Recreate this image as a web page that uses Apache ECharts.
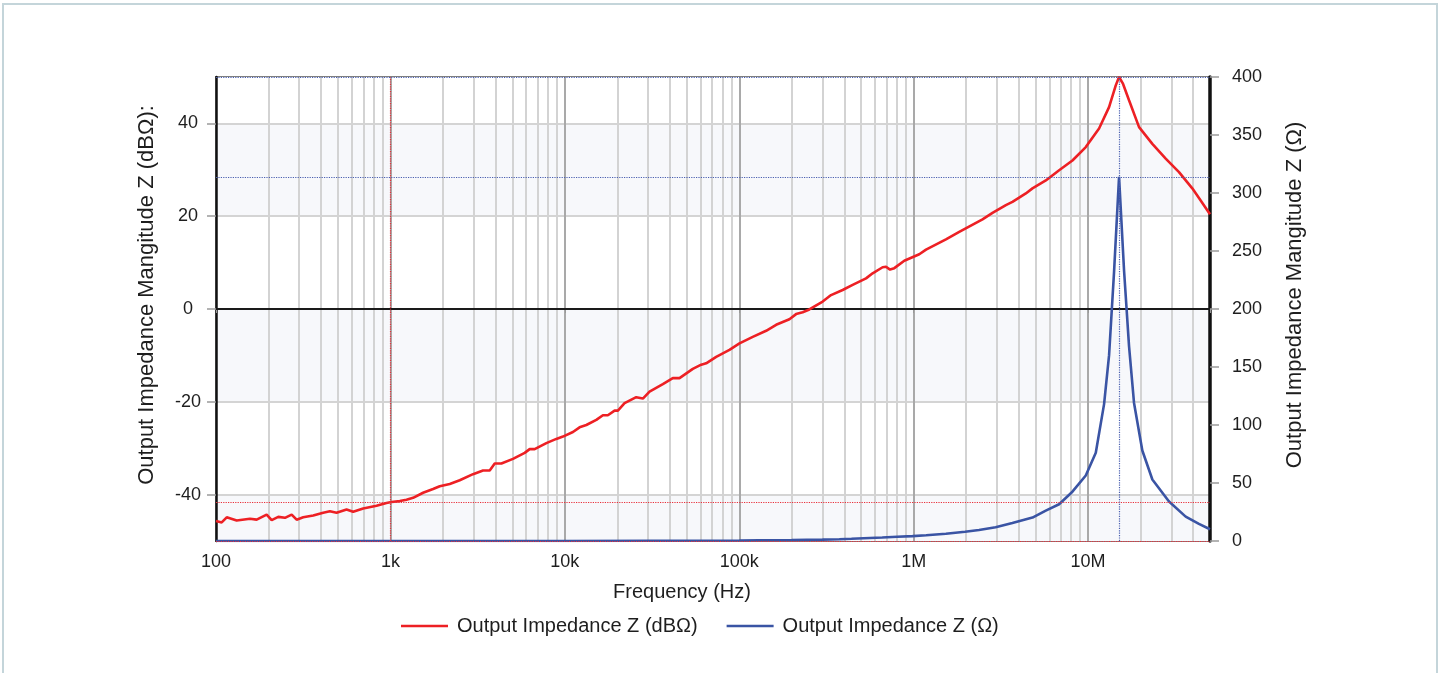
<!DOCTYPE html>
<html><head><meta charset="utf-8">
<script src="https://cdn.jsdelivr.net/npm/echarts@6/dist/echarts.min.js"></script>
<style>
html,body{margin:0;padding:0;background:#fff;overflow:hidden;width:1442px;height:673px}
#frame{position:absolute;left:2px;top:3px;width:1436px;height:720px;border:2px solid #c4d5da;box-sizing:border-box}
#chart{position:absolute;left:0;top:0;width:1442px;height:673px}
</style></head><body>
<div id="frame"></div>
<div id="chart"></div>
<script>
// ---- data ----
const redFreq = [100,107.8,115.2,131.4,156.5,171.1,195.2,208.5,227.5,248.5,271.5,289.9,316.2,360.8,411.7,449.7,491.2,560.5,611.5,697.8,832.6,949.1,1014,1132,1236,1349,1539,1756,1918,2189,2497,2976,3396,3710,3962,4328,5043,5886,6286,6714,7834,8940,9752,11130,12150,13280,15150,16530,17650,19290,20150,22000,25670,28020,30600,36470,41600,45440,54160,60520,64620,73750,87860,100300,119500,142600,162700,193900,211800,231000,252300,300800,336000,391500,446800,533200,581700,663700,694200,731800,774400,883600,1077000,1177000,1531000,1825000,2481000,2831000,3378000,3684000,4397000,4797000,5724000,6823000,8133000,9702000,11560000,13190000,14410000,15050000,15870000,17170000,19600000,23360000,27860000,33210000,39570000,44210000,50000000];
const redDb = [-45.7,-46.0,-44.9,-45.6,-45.2,-45.4,-44.3,-45.5,-44.8,-45.0,-44.3,-45.4,-44.9,-44.5,-43.9,-43.6,-43.9,-43.2,-43.7,-43.0,-42.4,-41.8,-41.6,-41.4,-41.1,-40.7,-39.6,-38.8,-38.2,-37.7,-36.9,-35.6,-34.8,-34.8,-33.3,-33.3,-32.3,-31.0,-30.2,-30.2,-28.9,-28.0,-27.5,-26.5,-25.5,-25.0,-23.9,-22.9,-22.9,-21.9,-21.9,-20.3,-19.0,-19.3,-17.8,-16.2,-14.9,-14.9,-12.9,-12.0,-11.7,-10.3,-8.8,-7.4,-6.0,-4.7,-3.4,-2.2,-1.1,-0.7,-0.1,1.6,3.0,4.1,5.2,6.6,7.7,9.0,9.1,8.5,8.8,10.4,11.8,12.8,15.0,16.6,19.3,20.7,22.4,23.1,24.9,26.0,27.7,29.9,32.0,34.9,38.9,43.5,48.2,50.0,48.5,45.0,39.2,35.6,32.4,29.5,26.0,23.4,20.4];
const blueFreq = [100,1000,10000,100000,130000,200000,300000,374900,440000,660000,805000,985000,1180000,1530000,1970000,2370000,2950000,3680000,4800000,5720000,6820000,8130000,9700000,11070000,12350000,13190000,14090000,15050000,16080000,17170000,18340000,20460000,23360000,29100000,36270000,43200000,50000000];
const blueOhm = [0.005,0.008,0.04,0.43,0.6,0.8,1.2,1.5,1.9,3.0,3.6,4.2,4.9,6.2,8.0,9.5,11.8,15.6,20.2,26.2,31.7,42.5,56.5,76,118,160,232,314,233,168,119,78,53,34,21,14.7,10.1];
const seriesNames = ['Output Impedance Z (dBΩ)', 'Output Impedance Z (Ω)'];
const xTickValues = [100, 1000, 10000, 100000, 1000000, 10000000];
const xTickLabels = ['100', '1k', '10k', '100k', '1M', '10M'];
const leftTickValues = [-40, -20, 0, 20, 40];
const bandEdges = [-50, -40, -20, 0, 20, 40, 50];
const cursorFreq = [1000, 15050000];
const cursorDb = [-41.6, 50];
const cursorOhm = [0.008, 314];

// ---- styles ----
const RED = '#ed2024', BLUE = '#3a54a4';
const CUR1 = '#e8303a', CUR2 = '#4a5fb0';
const FONT = "'Liberation Sans', Arial, sans-serif";
const TXT = '#1e1e1e';
const LIGHT = '#f7f8fb';

const minorFreqs = [];
for (let d = 100; d < 5e7; d *= 10) {
  for (let m = 2; m <= 9; m++) { if (d * m < 5e7) minorFreqs.push(d * m); }
}

const chart = echarts.init(document.getElementById('chart'), null, {renderer: 'canvas'});
const dotted = (c) => ({color: c, width: 1.2, type: 'dotted'});

chart.setOption({
  animation: false,
  textStyle: {fontFamily: FONT},
  grid: {left: 216, right: 232, top: 77, bottom: 132, show: true, borderColor: '#7f7f7f', borderWidth: 2, backgroundColor: 'transparent'},
  legend: {
    data: seriesNames, left: 396, top: 611, icon: 'rect', itemWidth: 47, itemHeight: 2.5, itemGap: 29,
    textStyle: {fontSize: 20, color: TXT, fontFamily: FONT, padding: [0, 0, 0, 4]}
  },
  xAxis: {
    type: 'log', logBase: 10, min: 100, max: 5e7,
    axisLine: {show: false},
    axisTick: {show: true, length: 4, lineStyle: {color: '#999'}},
    axisLabel: {
      fontSize: 18, color: TXT, margin: 12, fontFamily: FONT,
      formatter: function (v) {
        const e = Math.log10(v), r = Math.round(e);
        if (Math.abs(e - r) > 1e-6) return '';
        const i = xTickValues.indexOf(Math.pow(10, r));
        return i >= 0 ? xTickLabels[i] : '';
      }
    },
    splitLine: {show: true, lineStyle: {color: '#a9a9a9', width: 2}},
    name: 'Frequency (Hz)', nameLocation: 'middle', nameGap: 41,
    nameTextStyle: {fontSize: 20, color: TXT, fontFamily: FONT, padding: [0, 62, 0, 0]}
  },
  yAxis: [
    {
      type: 'value', min: -50, max: 50, position: 'left',
      axisLine: {show: true, lineStyle: {color: '#111', width: 2.5}},
      axisTick: {show: true, length: 9, customValues: leftTickValues, lineStyle: {color: '#9a9a9a', width: 1.5}},
      axisLabel: {customValues: leftTickValues, align: 'center', margin: 28, fontSize: 18, color: TXT, fontFamily: FONT},
      splitLine: {show: false},
      splitArea: {show: false},
      name: 'Output Impedance Mangitude Z (dBΩ):', nameLocation: 'middle', nameGap: 58, nameRotate: 90,
      nameTextStyle: {fontSize: 22, color: TXT, fontFamily: FONT, padding: [0, 0, 0, 28]}
    },
    {
      type: 'value', min: 0, max: 400, interval: 50, position: 'right',
      axisLine: {show: true, lineStyle: {color: '#111', width: 3.5}},
      axisTick: {show: true, length: 9, lineStyle: {color: '#9a9a9a', width: 1.5}},
      axisLabel: {margin: 22, fontSize: 18, color: TXT, fontFamily: FONT},
      splitLine: {show: false},
      name: 'Output Impedance Mangitude Z (Ω)', nameLocation: 'middle', nameGap: 74, nameRotate: 90,
      nameTextStyle: {fontSize: 22, color: TXT, fontFamily: FONT, padding: [0, 0, 0, 28]}
    },
    {
      // background bands and horizontal grid lines (same scale as left axis)
      type: 'value', min: -50, max: 50, position: 'left', z: 0,
      axisLine: {show: false}, axisLabel: {show: false},
      axisTick: {show: false, customValues: bandEdges},
      splitLine: {show: true, lineStyle: {color: ['transparent', '#d4d4d4', '#d4d4d4', '#d4d4d4', '#d4d4d4', '#d4d4d4', 'transparent'], width: 2}},
      splitArea: {show: true, areaStyle: {color: [LIGHT, '#ffffff']}}
    }
  ],
  series: [
    {
      name: '_grid', type: 'line', data: [], z: 1, silent: true, xAxisIndex: 0, yAxisIndex: 0,
      markLine: {
        z: 1, silent: true, symbol: ['none', 'none'], label: {show: false}, animation: false,
        lineStyle: {color: '#d3d3d3', width: 2, type: 'solid'},
        data: minorFreqs.map(f => ({xAxis: f})).concat([{yAxis: 0, lineStyle: {color: '#1a1a1a', width: 2, type: 'solid'}}])
      }
    },
    {
      name: seriesNames[0], type: 'line', yAxisIndex: 0, z: 4,
      data: redFreq.map((f, i) => [f, redDb[i]]),
      showSymbol: false, symbol: 'none', color: RED,
      lineStyle: {color: RED, width: 2.6},
      markLine: {
        z: 5, silent: true, symbol: ['none', 'none'], label: {show: false}, animation: false,
        data: [
          {xAxis: cursorFreq[0], lineStyle: dotted(CUR1)},
          {yAxis: cursorDb[0], lineStyle: dotted(CUR1)},
          {yAxis: cursorDb[1], lineStyle: dotted(CUR2)}
        ]
      }
    },
    {
      name: seriesNames[1], type: 'line', yAxisIndex: 1, z: 3,
      data: blueFreq.map((f, i) => [f, blueOhm[i]]),
      showSymbol: false, symbol: 'none', color: BLUE,
      lineStyle: {color: BLUE, width: 2.6},
      markLine: {
        z: 5, silent: true, symbol: ['none', 'none'], label: {show: false}, animation: false,
        data: [
          {xAxis: cursorFreq[1], lineStyle: dotted(CUR2)},
          {yAxis: cursorOhm[1], lineStyle: dotted(CUR2)},
          {yAxis: cursorOhm[0], lineStyle: dotted(CUR1)}
        ]
      }
    }
  ]
});
</script>
</body></html>
